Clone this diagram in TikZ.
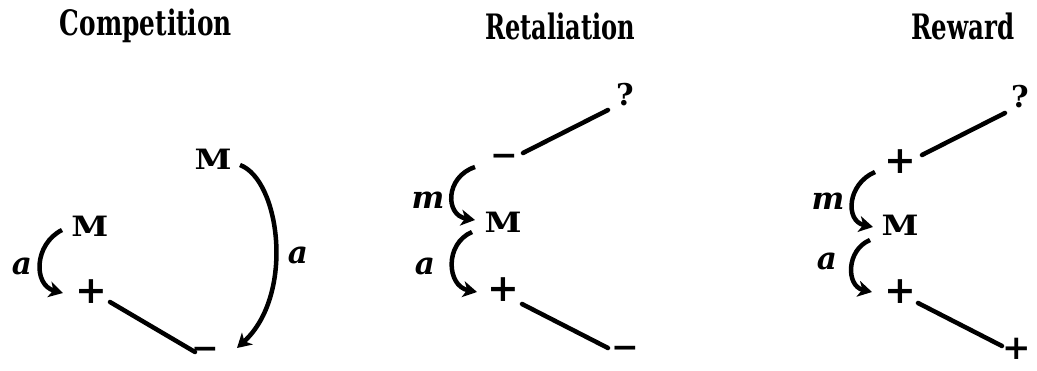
\documentclass[tikz,border=0pt]{standalone}
\usepackage{fontspec}
\usetikzlibrary{arrows.meta,calc}
\newfontfamily\dvs{DejaVu Serif}
\newcommand{\wideM}{\resizebox{37pt}{\height}{M}}
\begin{document}
\begin{tikzpicture}[x=1pt,y=-1pt,
  title/.style={font=\dvs\fontsize{35}{38}\selectfont\bfseries, inner sep=0pt},
  sym/.style={font=\dvs\fontsize{38}{42}\selectfont\bfseries, inner sep=0pt},
  symsmall/.style={font=\dvs\fontsize{34}{38}\selectfont\bfseries, inner sep=0pt},
  minus/.style={font=\dvs\fontsize{33}{36}\selectfont\bfseries, inner sep=0pt},
  qm/.style={font=\dvs\fontsize{30}{34}\selectfont\bfseries, inner sep=0pt},
  bigm/.style={font=\dvs\fontsize{28}{32}\selectfont\bfseries, inner sep=0pt},
  lab/.style={font=\dvs\fontsize{31}{34}\selectfont\bfseries\itshape, inner sep=0pt},
  curvearrow/.style={line width=4.5pt, -{Stealth[length=14pt,width=16pt,inset=4pt]}},
  bar/.style={line width=4.5pt, line cap=round},
]
\useasboundingbox (0,0) rectangle (1037,371);

% ---------- Competition ----------
\node[title] (T1) at (146,26) {\resizebox{172pt}{\height}{Competition}};
\node[bigm] (M1) at (90,226) {\wideM};
\node[sym] (P1) at (91,292) {+};
\node[minus] (N1) at (205,353) {−};
\node[bigm] (M2) at (213,159) {\wideM};
\node[lab] (a1) at (22,266) {a};
\node[lab] (a2) at (298,255) {a};
\draw[curvearrow] ($(M1)+(-28,4)$) .. controls +(-28,14) and +(-30,-8) .. ($(P1)+(-28,1)$);
\draw[bar] ($(P1)+(19,10)$) -- ($(N1)+(-10,-1)$);
\draw[curvearrow] ($(M2)+(27,6)$) .. controls +(40,15) and +(58,-53) .. ($(N1)+(32,-5)$);

% ---------- Retaliation ----------
\node[title] (T2) at (560,26) {\resizebox{150pt}{\height}{Retaliation}};
\node[qm] (Q2) at (625,95) {?};
\node[minus] (Mn2) at (504,160) {−};
\node[bigm] (M3) at (503,222) {\wideM};
\node[sym] (P2) at (503,290) {+};
\node[minus] (N2) at (625,352) {−};
\node[lab] (m2) at (428,200) {m};
\node[lab] (a3) at (425,266) {a};
\draw[bar] ($(Mn2)+(19,-7)$) -- ($(Q2)+(-17,15)$);
\draw[curvearrow] ($(Mn2)+(-29,7)$) .. controls +(-30,10) and +(-30,-5) .. ($(M3)+(-28,-2)$);
\draw[curvearrow] ($(M3)+(-31,10)$) .. controls +(-28,12) and +(-30,-6) .. ($(P2)+(-26,2)$);
\draw[bar] ($(P2)+(19,14)$) -- ($(N2)+(-17,-4)$);

% ---------- Reward ----------
\node[title] (T3) at (963,26) {\resizebox{103pt}{\height}{Reward}};
\node[qm] (Q3) at (1020,97) {?};
\node[sym] (PT) at (900,162) {+};
\node[bigm] (M4) at (900,225) {\wideM};
\node[sym] (P4) at (900,292) {+};
\node[symsmall] (PB) at (1017,349) {+};
\node[lab] (m3) at (828,201) {m};
\node[lab] (a4) at (827,261) {a};
\draw[bar] ($(PT)+(22,-7)$) -- ($(Q3)+(-15,16)$);
\draw[curvearrow] ($(PT)+(-25,10)$) .. controls +(-28,12) and +(-28,-6) .. ($(M4)+(-27,2)$);
\draw[curvearrow] ($(M4)+(-30,15)$) .. controls +(-24,10) and +(-26,-6) .. ($(P4)+(-28,0)$);
\draw[bar] ($(P4)+(18,11)$) -- ($(PB)+(-15,-3)$);
\end{tikzpicture}
\end{document}
